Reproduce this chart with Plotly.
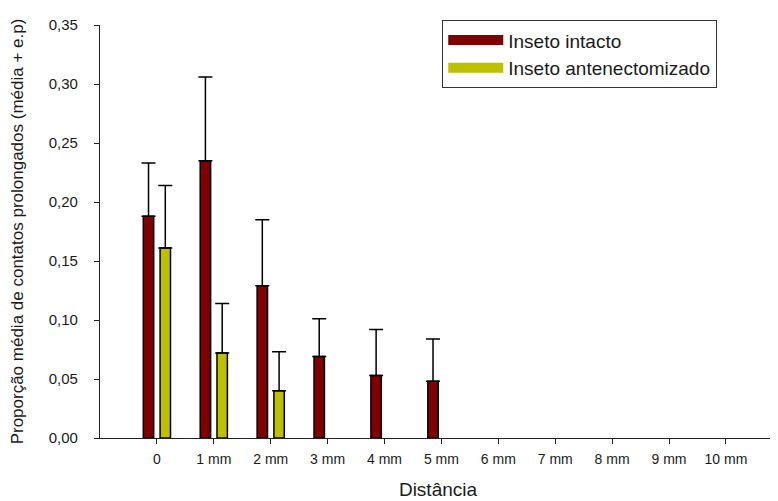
import plotly.graph_objects as go

categories = ["0", "1 mm", "2 mm", "3 mm", "4 mm", "5 mm", "6 mm", "7 mm", "8 mm", "9 mm", "10 mm"]
positions = list(range(len(categories)))

intacto_mean = [0.188, 0.235, 0.129, 0.069, 0.053, 0.048, None, None, None, None, None]
intacto_se = [0.045, 0.071, 0.056, 0.032, 0.039, 0.036, None, None, None, None, None]

antenec_mean = [0.161, 0.072, 0.040, None, None, None, None, None, None, None, None]
antenec_se = [0.053, 0.042, 0.033, None, None, None, None, None, None, None, None]

ytick_vals = [0, 0.05, 0.10, 0.15, 0.20, 0.25, 0.30, 0.35]

FONT = "Liberation Sans, Arial, sans-serif"
RED = "#7f0000"
YEL = "#bcc000"

fig = go.Figure()
fig.add_trace(go.Bar(
    x=positions, y=intacto_mean, name="Inseto intacto", legendgroup="a", showlegend=False,
    marker=dict(color=RED, line=dict(color="black", width=1.5)),
    error_y=dict(type="data", array=intacto_se, arrayminus=[0] * len(positions),
                 symmetric=False, color="black", thickness=1.5, width=7),
))
fig.add_trace(go.Bar(
    x=positions, y=antenec_mean, name="Inseto antenectomizado", legendgroup="b", showlegend=False,
    marker=dict(color=YEL, line=dict(color="black", width=1.5)),
    error_y=dict(type="data", array=antenec_se, arrayminus=[0] * len(positions),
                 symmetric=False, color="black", thickness=1.5, width=7),
))
# legend entries (wide swatches like the original)
fig.add_trace(go.Scatter(x=[None], y=[None], mode="lines", name="Inseto intacto",
                         legendgroup="a", line=dict(color=RED, width=12)))
fig.add_trace(go.Scatter(x=[None], y=[None], mode="lines", name="Inseto antenectomizado",
                         legendgroup="b", line=dict(color=YEL, width=12)))

# the page body adds an 8px offset; the figure is sized so the plot lands where the original's is
fig.update_layout(
    width=770, height=493,
    margin=dict(l=92, r=2, t=17, b=63, autoexpand=False),
    paper_bgcolor="white", plot_bgcolor="white",
    barmode="group", bargap=0.41, bargroupgap=0.38,
    separators=",.",
    font=dict(family=FONT, size=14, color="#1a1a1a"),
    showlegend=True,
    legend=dict(
        x=0.506, y=1.012, xanchor="left", yanchor="top",
        bordercolor="#333333", borderwidth=1.2, bgcolor="white",
        font=dict(family=FONT, size=19, color="#1a1a1a"),
        itemwidth=55, tracegroupgap=0,
    ),
    xaxis=dict(
        range=[-1.0, 10.88], tickmode="array", tickvals=positions, ticktext=categories,
        showline=True, linecolor="#222222", linewidth=1.2,
        ticks="outside", ticklen=5, tickcolor="#222222", tickwidth=1.2,
        showgrid=False, zeroline=False, automargin=False,
        ticklabelstandoff=3,
        title=dict(text="Distância", font=dict(size=19), standoff=16),
        tickfont=dict(size=14),
    ),
    yaxis=dict(
        range=[0, 0.35], tickvals=ytick_vals, tickformat=".2f",
        showline=True, linecolor="#222222", linewidth=1.2,
        ticks="outside", ticklen=5, tickcolor="#222222", tickwidth=1.2,
        showgrid=False, zeroline=False, automargin=False,
        ticklabelstandoff=13,
        title=dict(text="Proporção média de contatos prolongados (média + e.p)", font=dict(size=17), standoff=23),
        tickfont=dict(size=15),
    ),
)

fig.write_html("out.html")
